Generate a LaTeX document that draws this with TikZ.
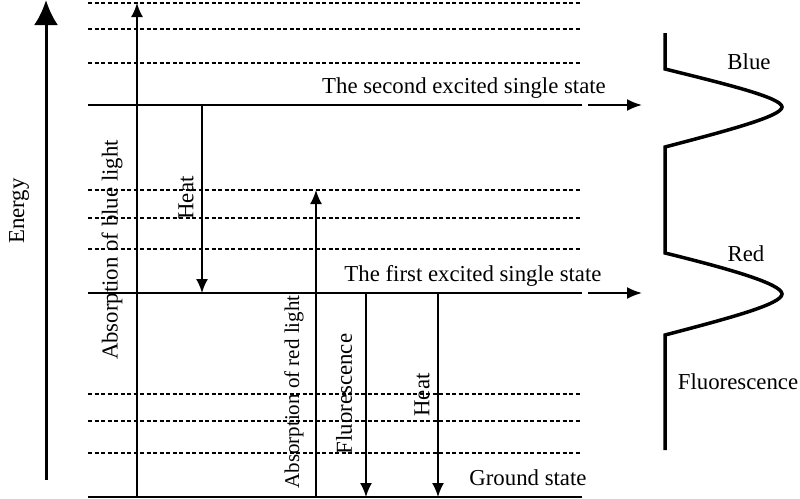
\documentclass[tikz,border=0pt]{standalone}
\usepackage{fontspec}
\setmainfont{Liberation Serif}
\usetikzlibrary{arrows.meta}
\begin{document}
\begin{tikzpicture}[x=1pt,y=-1pt,
  lvl/.style={line width=2pt},
  dlvl/.style={line width=1.5pt,dash pattern=on 4pt off 2.5pt},
  trans/.style={line width=1.8pt,-{Latex[length=14pt,width=12pt]}},
  lab/.style={font=\fontsize{22.8}{26}\selectfont,inner sep=0pt},
  vlab/.style={lab,rotate=90},
  spec/.style={line width=3.5pt}]
\useasboundingbox (0,0) rectangle (800,498);
% energy axis
\coordinate (eb) at (46,480);
\coordinate (et) at (46,0);
\draw[line width=3pt,-{Latex[length=25pt,width=24pt]}] (eb) -- (et);
\node[vlab] (energy) at (19,211) {Energy};
% levels
\foreach \y in {3,29,63,190,218,249,394,421,453}
  \draw[dlvl] (88,\y) -- (580,\y);
\coordinate (s2l) at (88,105); \coordinate (s2r) at (582,105);
\coordinate (s1l) at (88,293); \coordinate (s1r) at (582,293);
\coordinate (s0l) at (88,497); \coordinate (s0r) at (582,497);
\draw[lvl] (s2l) -- (s2r);
\draw[lvl] (s1l) -- (s1r);
\draw[lvl] (s0l) -- (s0r);
\node[lab,anchor=base] (t2) at (464,93) {The second excited single state};
\node[lab,anchor=base] (t1) at (473,281) {The first excited single state};
\node[lab,anchor=base] (t0) at (528,485) {Ground state};
% transitions
\coordinate (ab0) at (137,497); \coordinate (ab1) at (137,3);
\coordinate (hb0) at (202,105); \coordinate (hb1) at (202,293);
\coordinate (ar0) at (316,497); \coordinate (ar1) at (316,190);
\coordinate (fl0) at (366,293); \coordinate (fl1) at (366,497);
\coordinate (hr0) at (438,293); \coordinate (hr1) at (438,497);
\draw[trans] (ab0) -- (ab1);
\draw[trans] (hb0) -- (hb1);
\draw[trans] (ar0) -- (ar1);
\draw[trans] (fl0) -- (fl1);
\draw[trans] (hr0) -- (hr1);
\node[vlab] (lab1) at (112,250) {Absorption of blue light};
\node[vlab] (lab2) at (186,198) {Heat};
\node[vlab,font=\fontsize{21}{24}\selectfont] (lab3) at (294,392) {Absorption of red light};
\node[vlab] (lab4) at (344,394) {Fluorescence};
\node[vlab] (lab5) at (422,395) {Heat};
% arrows to spectrum
\coordinate (a2s) at (588,105); \coordinate (a2e) at (642,105);
\coordinate (a1s) at (588,293); \coordinate (a1e) at (642,293);
\draw[line width=2pt,-{Latex[length=15pt,width=12pt]}] (a2s) -- (a2e);
\draw[line width=2pt,-{Latex[length=15pt,width=12pt]}] (a1s) -- (a1e);
% spectrum
\draw[spec] (665,33) -- (665,69)
  .. controls (730,85) and (782,98) .. (782,107)
  .. controls (782,116) and (730,130) .. (665,147)
  -- (665,253)
  .. controls (730,269) and (782,284) .. (782,294)
  .. controls (782,304) and (730,318) .. (665,335)
  -- (665,450);
\node[lab,anchor=base] (blue) at (749,69) {Blue};
\node[lab,anchor=base] (red) at (746,261) {Red};
\node[lab,anchor=base] (fluo) at (738,389) {Fluorescence};
\end{tikzpicture}
\end{document}
